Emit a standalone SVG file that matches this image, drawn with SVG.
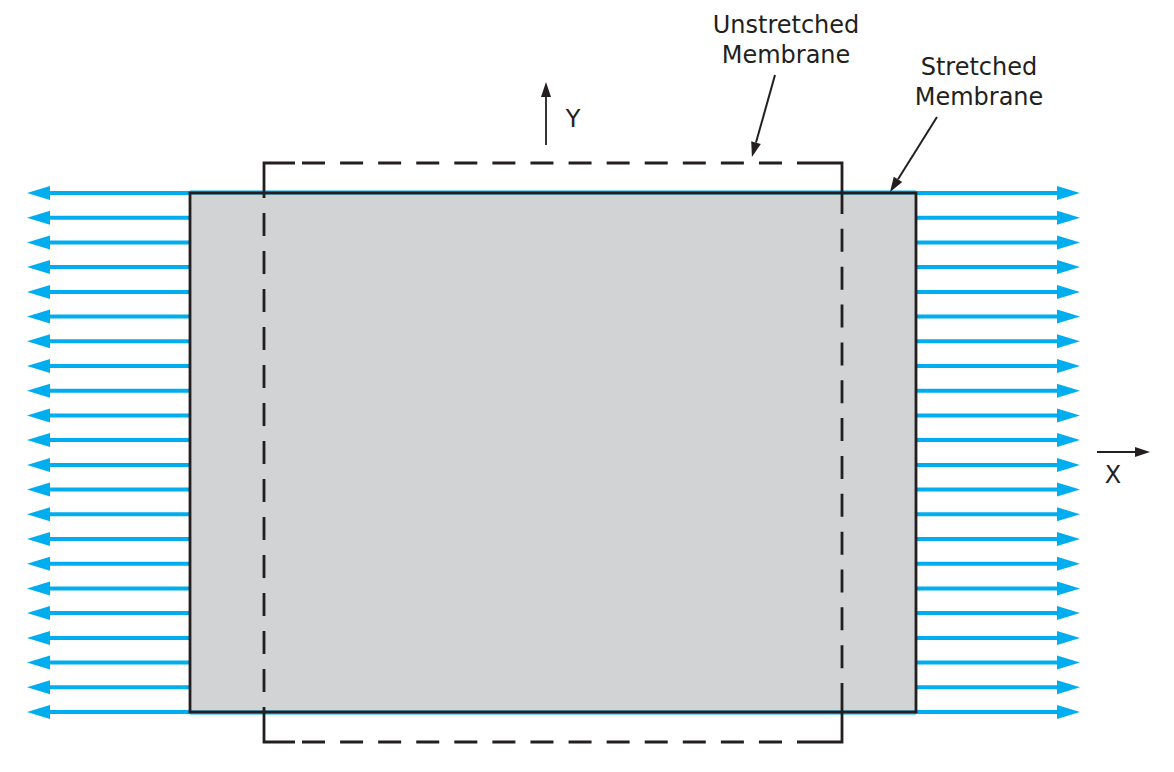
<svg xmlns="http://www.w3.org/2000/svg" width="1174" height="772" viewBox="0 0 1174 772">
  <style>
    .force { stroke: #00aeef; stroke-width: 4; fill: none; }
    .fl { marker-end: url(#blueHead); }
    .edge { stroke: #231f20; stroke-width: 2.8; fill: none; stroke-linejoin: miter; stroke-linecap: butt; }
    .lead { stroke: #231f20; stroke-width: 2; fill: none; marker-end: url(#blackHead); }
    .axis { stroke: #231f20; stroke-width: 1.8; fill: none; marker-end: url(#blackHead); }
    .lbl { font-family: "DejaVu Sans", "Open Sans", "Liberation Sans", sans-serif; font-size: 24px; fill: #231f20; text-anchor: middle; }
  </style>
  <defs>
    <marker id="blueHead" markerUnits="userSpaceOnUse" markerWidth="24" markerHeight="14" refX="0" refY="7" orient="auto" overflow="visible">
      <path d="M0,0 L23,7 L0,14 Z" fill="#00aeef"/>
    </marker>
    <marker id="blackHead" markerUnits="userSpaceOnUse" markerWidth="16" markerHeight="10" refX="0" refY="5" orient="auto" overflow="visible">
      <path d="M0,0 L15,5 L0,10 Z" fill="#231f20"/>
    </marker>
  </defs>

  <rect width="1174" height="772" fill="#ffffff"/>

  <g id="stretched-membrane-fill">
    <rect x="190" y="193" width="726" height="519" fill="#d1d3d4"/>
  </g>

  <g id="connectors">
    <g id="left-forces">
      <line class="force fl" x1="190" y1="193" x2="50" y2="193"/>
      <line class="force fl" x1="190" y1="217.7" x2="50" y2="217.7"/>
      <line class="force fl" x1="190" y1="242.4" x2="50" y2="242.4"/>
      <line class="force fl" x1="190" y1="267.1" x2="50" y2="267.1"/>
      <line class="force fl" x1="190" y1="291.9" x2="50" y2="291.9"/>
      <line class="force fl" x1="190" y1="316.6" x2="50" y2="316.6"/>
      <line class="force fl" x1="190" y1="341.3" x2="50" y2="341.3"/>
      <line class="force fl" x1="190" y1="366" x2="50" y2="366"/>
      <line class="force fl" x1="190" y1="390.7" x2="50" y2="390.7"/>
      <line class="force fl" x1="190" y1="415.4" x2="50" y2="415.4"/>
      <line class="force fl" x1="190" y1="440.1" x2="50" y2="440.1"/>
      <line class="force fl" x1="190" y1="464.9" x2="50" y2="464.9"/>
      <line class="force fl" x1="190" y1="489.6" x2="50" y2="489.6"/>
      <line class="force fl" x1="190" y1="514.3" x2="50" y2="514.3"/>
      <line class="force fl" x1="190" y1="539" x2="50" y2="539"/>
      <line class="force fl" x1="190" y1="563.7" x2="50" y2="563.7"/>
      <line class="force fl" x1="190" y1="588.4" x2="50" y2="588.4"/>
      <line class="force fl" x1="190" y1="613.1" x2="50" y2="613.1"/>
      <line class="force fl" x1="190" y1="637.9" x2="50" y2="637.9"/>
      <line class="force fl" x1="190" y1="662.6" x2="50" y2="662.6"/>
      <line class="force fl" x1="190" y1="687.3" x2="50" y2="687.3"/>
      <line class="force fl" x1="190" y1="712" x2="50" y2="712"/>
    </g>
    <g id="right-forces">
      <line class="force fl" x1="916" y1="193" x2="1057" y2="193"/>
      <line class="force fl" x1="916" y1="217.7" x2="1057" y2="217.7"/>
      <line class="force fl" x1="916" y1="242.4" x2="1057" y2="242.4"/>
      <line class="force fl" x1="916" y1="267.1" x2="1057" y2="267.1"/>
      <line class="force fl" x1="916" y1="291.9" x2="1057" y2="291.9"/>
      <line class="force fl" x1="916" y1="316.6" x2="1057" y2="316.6"/>
      <line class="force fl" x1="916" y1="341.3" x2="1057" y2="341.3"/>
      <line class="force fl" x1="916" y1="366" x2="1057" y2="366"/>
      <line class="force fl" x1="916" y1="390.7" x2="1057" y2="390.7"/>
      <line class="force fl" x1="916" y1="415.4" x2="1057" y2="415.4"/>
      <line class="force fl" x1="916" y1="440.1" x2="1057" y2="440.1"/>
      <line class="force fl" x1="916" y1="464.9" x2="1057" y2="464.9"/>
      <line class="force fl" x1="916" y1="489.6" x2="1057" y2="489.6"/>
      <line class="force fl" x1="916" y1="514.3" x2="1057" y2="514.3"/>
      <line class="force fl" x1="916" y1="539" x2="1057" y2="539"/>
      <line class="force fl" x1="916" y1="563.7" x2="1057" y2="563.7"/>
      <line class="force fl" x1="916" y1="588.4" x2="1057" y2="588.4"/>
      <line class="force fl" x1="916" y1="613.1" x2="1057" y2="613.1"/>
      <line class="force fl" x1="916" y1="637.9" x2="1057" y2="637.9"/>
      <line class="force fl" x1="916" y1="662.6" x2="1057" y2="662.6"/>
      <line class="force fl" x1="916" y1="687.3" x2="1057" y2="687.3"/>
      <line class="force fl" x1="916" y1="712" x2="1057" y2="712"/>
    </g>
    <line class="force" x1="190" y1="192.5" x2="916" y2="192.5" stroke-width="3"/>
    <line class="force" x1="190" y1="712.5" x2="916" y2="712.5" stroke-width="3"/>
    <g id="leaders">
      <line class="lead" x1="775" y1="75" x2="756" y2="142.6"/>
      <line class="lead" x1="937" y1="117" x2="898" y2="179.3"/>
    </g>
  </g>

  <g id="stretched-membrane">
    <rect class="edge" x="190" y="193" width="726" height="519"/>
  </g>

  <g id="unstretched-membrane">
    <path class="edge" d="M264,198 V163 H295 M797,163 H842 V214 M264,707 V742 H295 M797,742 H842 V683"/>
    <line class="edge" x1="302" y1="163" x2="782" y2="163" stroke-dasharray="23 15.08"/>
    <line class="edge" x1="302" y1="742" x2="782" y2="742" stroke-dasharray="23 15.08"/>
    <line class="edge" x1="264" y1="213" x2="264" y2="692" stroke-dasharray="23 15"/>
    <line class="edge" x1="842" y1="228.85" x2="842" y2="668.2" stroke-dasharray="23 14.85"/>
  </g>

  <g id="y-axis">
    <line class="axis" x1="546" y1="145" x2="546" y2="97"/>
    <text class="lbl" x="573" y="127">Y</text>
  </g>

  <g id="x-axis">
    <line class="axis" x1="1097" y1="452" x2="1135" y2="452"/>
    <text class="lbl" x="1113" y="483">X</text>
  </g>

  <g id="label-unstretched">
    <text class="lbl" x="786" y="33">Unstretched</text>
    <text class="lbl" x="786" y="63">Membrane</text>
  </g>

  <g id="label-stretched">
    <text class="lbl" x="979" y="75">Stretched</text>
    <text class="lbl" x="979" y="105">Membrane</text>
  </g>
</svg>
